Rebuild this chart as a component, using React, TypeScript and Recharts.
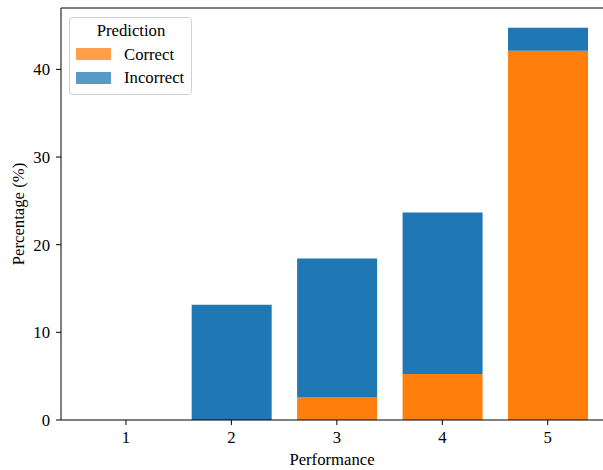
import { BarChart, Bar, XAxis, YAxis, Legend, ReferenceLine } from 'recharts';

// share of 38 samples per performance score, split by prediction outcome
const performance = [1, 2, 3, 4, 5];
const correct = [0, 0, 2.63, 5.26, 42.11];
const incorrect = [0, 13.16, 15.79, 18.42, 2.63];
const yTicks = [0, 10, 20, 30, 40];

const chartData = performance.map((p, i) => ({
  performance: p,
  correct: correct[i],
  incorrect: incorrect[i],
}));

const FONT = 'Times New Roman';
const ORANGE = '#ff7f0e';
const BLUE = '#1f77b4';

const PredictionLegend = () => (
  <svg width={124} height={78} style={{ display: 'block' }}>
    <rect x={0.5} y={0.5} width={122} height={77} rx={3} fill="#fff" fillOpacity={0.8} stroke="#d0d0d0" />
    <text x={62} y={19} textAnchor="middle" fontSize={16.7} fontFamily={FONT} fill="#000">Prediction</text>
    <rect x={7} y={31} width={35} height={12} fill={ORANGE} fillOpacity={0.75} />
    <text x={55} y={42.5} fontSize={16.7} fontFamily={FONT} fill="#000">Correct</text>
    <rect x={7} y={55} width={35} height={12} fill={BLUE} fillOpacity={0.75} />
    <text x={55} y={66} fontSize={16.7} fontFamily={FONT} fill="#000">Incorrect</text>
  </svg>
);

const YLabel = (props: any) => {
  const vb = props.viewBox || {};
  const cx = 18;
  const cy = vb.y + vb.height / 2;
  return (
    <text
      x={cx}
      y={cy}
      dy="0.35em"
      transform={`rotate(-90 ${cx} ${cy})`}
      textAnchor="middle"
      fontSize={16.7}
      fontFamily={FONT}
      fill="#000"
    >
      Percentage (%)
    </text>
  );
};

const tickStyle = { fontSize: 16.7, fill: '#000', fontFamily: FONT };

const App = () => {
  return (
    <div style={styles.container}>
      <BarChart width={603} height={470} data={chartData} margin={{ top: 8, right: 0, left: 0, bottom: 0 }}>
        <XAxis
          dataKey="performance"
          type="number"
          domain={[0.384, 5.524]}
          allowDataOverflow
          ticks={performance}
          height={50}
          tick={tickStyle}
          tickSize={5}
          tickMargin={6}
          axisLine={{ stroke: '#000', strokeWidth: 1 }}
          tickLine={{ stroke: '#000' }}
          label={{ value: 'Performance', position: 'insideBottom', offset: 5, fontSize: 16.7, fill: '#000', fontFamily: FONT }}
        />
        <YAxis
          type="number"
          domain={[0, 47]}
          allowDataOverflow
          ticks={yTicks}
          width={61}
          tick={tickStyle}
          tickSize={5}
          tickMargin={6}
          axisLine={{ stroke: '#000', strokeWidth: 1 }}
          tickLine={{ stroke: '#000' }}
          label={<YLabel />}
        />
        <ReferenceLine y={47} stroke="#000" strokeWidth={1} ifOverflow="extendDomain" />
        <Legend
          layout="vertical"
          align="center"
          verticalAlign="middle"
          content={() => <PredictionLegend />}
          wrapperStyle={{ left: 69, top: 17, width: 124, height: 78 }}
        />
        <Bar dataKey="correct" name="Correct" stackId="a" fill={ORANGE} barSize={80} isAnimationActive={false} />
        <Bar dataKey="incorrect" name="Incorrect" stackId="a" fill={BLUE} barSize={80} isAnimationActive={false} />
      </BarChart>
    </div>
  );
};

const styles: any = {
  container: { position: 'absolute', left: 0, top: 0, width: 603, height: 470, background: '#fff' },
};

export default App;
